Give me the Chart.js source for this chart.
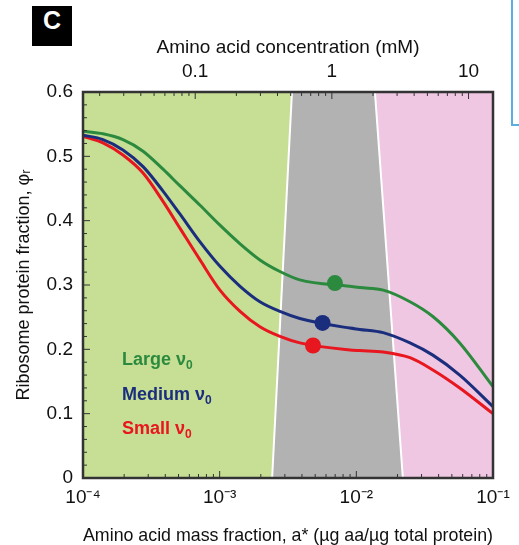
<!DOCTYPE html>
<html>
<head>
<meta charset="utf-8">
<script src="https://cdn.jsdelivr.net/npm/chart.js@4.4.1/dist/chart.umd.min.js"></script>
<style>
    html, body { margin: 0; padding: 0; background: #fff; overflow: hidden; }
    #wrap { position: relative; width: 519px; height: 545px; overflow: hidden; }
    #chart { position: absolute; left: 0; top: 0; }
    #panel {
        position: absolute; left: 32px; top: 6px; width: 40px; height: 40px;
        background: #000; color: #fff; text-align: center; line-height: 40px;
        font: bold 25px "Liberation Sans", Arial, sans-serif;
    }
    #side { position: absolute; left: 511px; top: -4px; width: 30px; height: 126px; border: 2px solid #5aaee0; }
</style>
</head>
<body>
<div id="wrap">
    <canvas id="chart" width="519" height="545"></canvas>
    <div id="panel">C</div>
    <div id="side"></div>
</div>
<script>
// Ribosome protein fraction vs amino acid mass fraction (panel C)

const massFraction = [1e-4, 1.40e-4, 1.96e-4, 2.75e-4, 3.85e-4, 5.13e-4, 7.18e-4, 1.005e-3, 1.41e-3, 1.97e-3, 2.76e-3, 3.86e-3, 8.97e-3, 1.06e-2, 1.57e-2, 2.47e-2, 3.63e-2, 5.71e-2, 1e-1];
const largeV0  = [0.539, 0.535, 0.526, 0.508, 0.480, 0.454, 0.424, 0.393, 0.364, 0.339, 0.321, 0.308, 0.298, 0.296, 0.292, 0.274, 0.251, 0.210, 0.142];
const mediumV0 = [0.533, 0.526, 0.510, 0.484, 0.446, 0.410, 0.367, 0.329, 0.298, 0.274, 0.259, 0.248, 0.233, 0.231, 0.226, 0.210, 0.191, 0.160, 0.111];
const smallV0  = [0.531, 0.521, 0.502, 0.474, 0.430, 0.388, 0.339, 0.292, 0.259, 0.235, 0.220, 0.210, 0.199, 0.198, 0.196, 0.187, 0.168, 0.140, 0.100];

// filled circles (large, medium, small)
const markerX = [6.97e-3, 5.66e-3, 4.82e-3];
const markerY = [0.303, 0.241, 0.206];

// gray middle region: edges at the bottom (phi=0) and top (phi=0.6)
const grayBottom = [2.42e-3, 2.19e-2];
const grayTop = [3.38e-3, 1.368e-2];

const concPerFraction = 151; // mM of amino acid per unit a*
const legendNames = ['Large', 'Medium', 'Small'];

const colors = { large: '#2b8a3e', medium: '#1b2e7e', small: '#e8161f' };
const FONT = '"Liberation Sans", Arial, sans-serif';

const pts = (xs, ys) => xs.map((x, i) => ({ x: x, y: ys[i] }));
const isPow10 = v => Math.abs(Math.log10(v) - Math.round(Math.log10(v))) < 1e-9;
const supMap = { '-': '\u207B', '0': '\u2070', '1': '\u00B9', '2': '\u00B2', '3': '\u00B3', '4': '\u2074', '5': '\u2075', '6': '\u2076', '7': '\u2077', '8': '\u2078', '9': '\u2079' };
const sup = n => String(n).split('').map(c => supMap[c]).join('');

// log ticks 1..9 x 10^e, kept inside [lo, hi]
const logTicks = (lo, hi) => {
    const out = [];
    for (let e = Math.floor(Math.log10(lo)); e <= Math.ceil(Math.log10(hi)); e++) {
        for (let m = 1; m <= 9; m++) {
            const v = Number((m * Math.pow(10, e)).toPrecision(6));
            if (v >= lo * 0.999 && v <= hi * 1.001) out.push({ value: v });
        }
    }
    return out;
};

// frame + inward tick marks
const frameTicks = {
    id: 'frameTicks',
    afterDatasetsDraw(chart) {
        const { ctx, chartArea: a, scales } = chart;
        ctx.save();
        ctx.strokeStyle = '#333';
        ctx.lineWidth = 1;
        ctx.beginPath();
        scales.x.ticks.forEach(t => {
            const px = scales.x.getPixelForValue(t.value);
            const len = isPow10(t.value) ? 7 : 4;
            ctx.moveTo(px, a.bottom); ctx.lineTo(px, a.bottom - len);
        });
        scales.x2.ticks.forEach(t => {
            const px = scales.x2.getPixelForValue(t.value);
            const len = isPow10(t.value) ? 7 : 4;
            ctx.moveTo(px, a.top); ctx.lineTo(px, a.top + len);
        });
        scales.y.ticks.forEach(t => {
            const py = scales.y.getPixelForValue(t.value);
            const major = Math.abs(t.value * 10 - Math.round(t.value * 10)) < 1e-6;
            ctx.moveTo(a.left, py); ctx.lineTo(a.left + (major ? 7 : 4), py);
        });
        ctx.stroke();
        ctx.lineWidth = 2.5;
        ctx.strokeRect(a.left, a.top, a.right - a.left, a.bottom - a.top);
        ctx.restore();
    }
};

// coloured "Large v0" etc labels inside the plot
const curveLabels = {
    id: 'curveLabels',
    afterDatasetsDraw(chart) {
        const { ctx, chartArea: a } = chart;
        const cols = [colors.large, colors.medium, colors.small];
        const baselines = [273, 308, 342];
        ctx.save();
        legendNames.forEach((name, i) => {
            const x = a.left + 39, y = a.top + baselines[i];
            ctx.fillStyle = cols[i];
            ctx.font = 'bold 18px ' + FONT;
            ctx.textBaseline = 'alphabetic';
            const txt = name + ' \u03BD';
            ctx.fillText(txt, x, y);
            const w = ctx.measureText(txt).width;
            ctx.font = 'bold 12px ' + FONT;
            ctx.fillText('0', x + w, y + 4);
        });
        ctx.restore();
    }
};

const region = (data, color, order, extra) => Object.assign({
    data: data,
    fill: 'origin',
    backgroundColor: color,
    borderWidth: 0,
    pointRadius: 0,
    tension: 0,
    order: order
}, extra || {});

const curve = (ys, color) => ({
    data: pts(massFraction, ys),
    borderColor: color,
    borderWidth: 3,
    pointRadius: 0,
    fill: false,
    cubicInterpolationMode: 'monotone',
    order: 2
});

new Chart(document.getElementById('chart').getContext('2d'), {
    type: 'line',
    data: {
        datasets: [
            {
                data: pts(markerX, markerY),
                showLine: false,
                pointRadius: 8,
                pointBackgroundColor: [colors.large, colors.medium, colors.small],
                pointBorderWidth: 0,
                order: 0
            },
            curve(largeV0, colors.large),
            curve(mediumV0, colors.medium),
            curve(smallV0, colors.small),
            region([{ x: grayBottom[0], y: 0 }, { x: grayTop[0], y: 0.6 }, { x: grayTop[1], y: 0.6 }, { x: grayBottom[1], y: 0 }],
                '#b2b2b2', 10, { borderColor: '#ffffff', borderWidth: 2 }),
            region([{ x: 1e-4, y: 0.6 }, { x: 8e-3, y: 0.6 }], '#c6df95', 11),
            region([{ x: 1e-4, y: 0.6 }, { x: 0.1, y: 0.6 }], '#efc7e2', 12)
        ]
    },
    options: {
        responsive: false,
        animation: false,
        layout: { padding: { left: 0, right: 26, top: 0, bottom: 0 } },
        plugins: { legend: { display: false }, tooltip: { enabled: false } },
        scales: {
            x: {
                type: 'logarithmic',
                position: 'bottom',
                min: 1e-4,
                max: 0.1,
                afterBuildTicks: s => { s.ticks = logTicks(1e-4, 0.1); },
                afterFit: s => { s.height = 67; },
                grid: { display: false, drawTicks: false },
                border: { display: false },
                ticks: {
                    autoSkip: false, maxRotation: 0, padding: 8, color: '#111',
                    font: { family: FONT, size: 19 },
                    callback: v => isPow10(v) ? '10' + sup(Math.round(Math.log10(v))) : ''
                },
                title: {
                    display: true, color: '#111',
                    text: 'Amino acid mass fraction, a* (\u00B5g aa/\u00B5g total protein)',
                    font: { family: FONT, size: 19, lineHeight: 1 },
                    padding: { top: 0, bottom: 0 }
                }
            },
            x2: {
                type: 'logarithmic',
                position: 'top',
                min: 1e-4 * concPerFraction,
                max: 0.1 * concPerFraction,
                afterBuildTicks: s => { s.ticks = logTicks(1e-4 * concPerFraction, 0.1 * concPerFraction); },
                afterFit: s => { s.height = 92; },
                grid: { display: false, drawTicks: false },
                border: { display: false },
                ticks: {
                    autoSkip: false, maxRotation: 0, padding: 9, color: '#111',
                    font: { family: FONT, size: 19 },
                    callback: v => isPow10(v) ? String(v) : ''
                },
                title: {
                    display: true, color: '#111',
                    text: 'Amino acid concentration (mM)',
                    font: { family: FONT, size: 19, lineHeight: 1 },
                    padding: { top: 38, bottom: 0 }
                }
            },
            y: {
                min: 0,
                max: 0.6,
                afterBuildTicks: s => {
                    const t = [];
                    for (let i = 0; i <= 30; i++) t.push({ value: i * 2 / 100 });
                    s.ticks = t;
                },
                afterFit: s => { s.width = 83; },
                grid: { display: false, drawTicks: false },
                border: { display: false },
                ticks: {
                    autoSkip: false, padding: 10, color: '#111',
                    font: { family: FONT, size: 19 },
                    callback: v => Math.abs(v * 10 - Math.round(v * 10)) < 1e-6 ? (v === 0 ? '0' : v.toFixed(1)) : ''
                },
                title: {
                    display: true, color: '#111',
                    text: 'Ribosome protein fraction, \u03C6\u1D63',
                    font: { family: FONT, size: 18, lineHeight: 1 },
                    padding: { top: 15, bottom: 0 }
                }
            }
        }
    },
    plugins: [frameTicks, curveLabels]
});
</script>
</body>
</html>
